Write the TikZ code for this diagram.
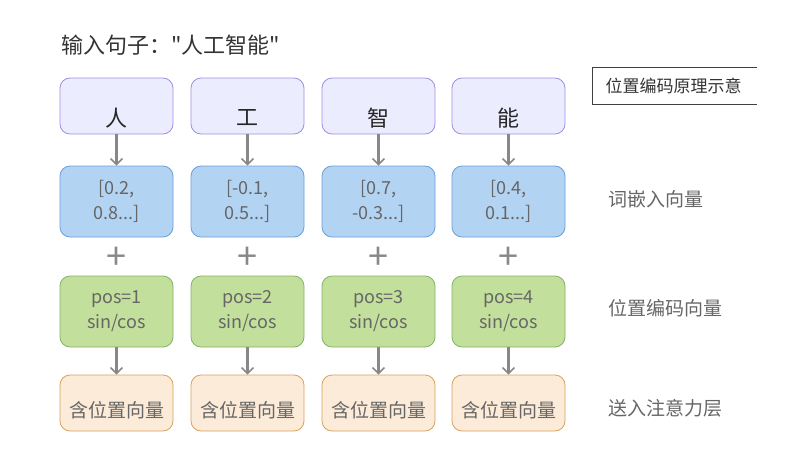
\documentclass[tikz,border=0pt]{standalone}
\usepackage{fontspec}
\setmainfont{Noto Sans CJK SC}
\newfontfamily\titlefont{Noto Sans CJK SC}
\usetikzlibrary{arrows.meta}
\definecolor{wordfill}{HTML}{ECECFF}
\definecolor{worddraw}{HTML}{9F8FE0}
\definecolor{embfill}{HTML}{B3D3F3}
\definecolor{embdraw}{HTML}{6A9FD8}
\definecolor{posfill}{HTML}{C3DF9C}
\definecolor{posdraw}{HTML}{82B366}
\definecolor{outfill}{HTML}{FCEBD8}
\definecolor{outdraw}{HTML}{D6A25E}
\definecolor{txtgray}{HTML}{666666}
\definecolor{arrgray}{HTML}{888888}
\tikzset{
  box/.style={draw, rounded corners=10pt, line width=0.8pt, inner sep=0pt,
    minimum width=113pt, align=center, text=txtgray,
    font=\fontsize{18pt}{25pt}\selectfont},
  flow/.style={-{Straight Barb[length=6pt,width=12pt,line width=1.5pt]},
    line width=2.5pt, arrgray},
  sidelabel/.style={anchor=west, text=txtgray, font=\fontsize{19pt}{22pt}\selectfont}
}

\begin{document}
\begin{tikzpicture}[x=1pt,y=-1pt]
        \useasboundingbox (0,0) rectangle (801,450);
        \node[anchor=west, text=black!80, font=\titlefont\fontsize{22pt}{24pt}\selectfont] (title) at (58,45) {输入句子："人工智能"};
        % legend, right side cut off
        \draw[black!75, line width=0.9pt] (757,67) -- (592,67) -- (592,104) -- (757,104);
        \node[anchor=west, text=black!80, font=\fontsize{17pt}{20pt}\selectfont] (legend) at (602,86) {位置编码原理示意};
        \foreach \i/\x/\ch/\emb/\p in {1/116.5/人/{[0.2,\\0.8...]}/1,
                                     2/247.5/工/{[-0.1,\\0.5...]}/2,
                                     3/378.5/智/{[0.7,\\-0.3...]}/3,
                                     4/508.5/能/{[0.4,\\0.1...]}/4} {
          \node[box, fill=wordfill, draw=worddraw, minimum height=56pt] (word\i) at (\x,106) {};
          \node[text=black!85, font=\fontsize{22pt}{24pt}\selectfont] (char\i) at (\x,118) {\ch};
          \node[text=arrgray, font=\fontsize{36pt}{38pt}\selectfont] (plus\i) at (\x,258) {+};
          \node[box, fill=embfill, draw=embdraw, minimum height=71pt] (emb\i) at (\x,201.5) {\emb};
          \node[box, fill=posfill, draw=posdraw, minimum height=71pt] (pos\i) at (\x,311.5) {pos=\p\\sin/cos};
          \node[box, fill=outfill, draw=outdraw, minimum height=56pt] (out\i) at (\x,403) {};
          \node[text=txtgray, font=\fontsize{19pt}{22pt}\selectfont] (outtxt\i) at (\x,410) {含位置向量};
          \draw[flow] (word\i) -- (emb\i);
          \draw[flow] (pos\i) -- (out\i);
        }
        \node[sidelabel] (lemb) at (605,199) {词嵌入向量};
        \node[sidelabel] (lpos) at (605,308) {位置编码向量};
        \node[sidelabel] (lout) at (605,408) {送入注意力层};
    \end{tikzpicture}
\end{document}
